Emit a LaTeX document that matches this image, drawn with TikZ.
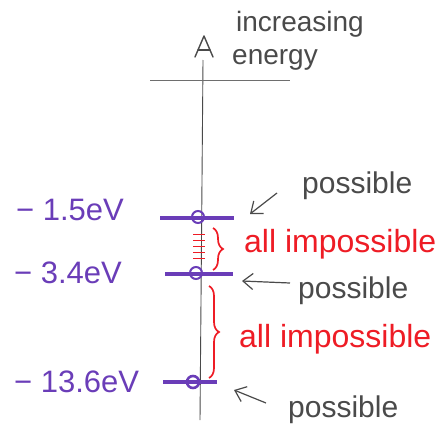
\documentclass[tikz,border=0pt]{standalone}
\usepackage{fontspec}
\setmainfont{Liberation Sans}
\usetikzlibrary{arrows.meta,decorations.pathreplacing}
\definecolor{pencil}{HTML}{4A4A4A}
\definecolor{violet}{HTML}{6A3DB8}
\definecolor{redink}{HTML}{EE1C25}
\tikzset{
  grayText/.style={text=pencil, font=\fontsize{30}{32}\selectfont, inner sep=0pt, anchor=west},
  levelLabel/.style={text=violet, font=\fontsize{31}{33}\selectfont, inner sep=0pt, anchor=west},
  impText/.style={text=redink, font=\fontsize{32}{34}\selectfont, inner sep=0pt, anchor=west},
  levelLine/.style={draw=violet, line width=3.6pt},
  levelDot/.style={draw=violet, line width=2pt, circle, minimum size=12pt, inner sep=0pt},
  pointer/.style={draw=pencil, line width=1.2pt, -{Straight Barb[length=10pt,width=16pt]}},
  redBrace/.style={draw=redink, line width=1.7pt, decorate, decoration={brace, amplitude=10pt}},
  tick/.style={draw=redink, line width=0.9pt},
  axisPen/.style={draw=pencil, line width=0.9pt},
  headPen/.style={draw=pencil, line width=1.4pt, line join=round, line cap=round}
}
\begin{document}
\begin{tikzpicture}[x=1pt,y=-1pt]
\useasboundingbox (0,0) rectangle (438,428);
% axis with hand-drawn open arrowhead
\coordinate (axBot) at (200,420);
\coordinate (axTop) at (203,60);
\draw[axisPen] (axBot) -- (axTop);
\coordinate (hl) at (195,57); \coordinate (ht) at (204,36); \coordinate (hr) at (213,57);
\coordinate (cl) at (198,50); \coordinate (cr) at (210,50);
\draw[headPen] (hl) -- (ht) -- (hr);
\draw[headPen] (cl) -- (cr);
\coordinate (zl) at (150,80);
\coordinate (zr) at (290,80);
\draw[pencil!80, line width=0.7pt] (zl) -- (zr);
\node[grayText, font=\fontsize{28}{30}\selectfont] (inc) at (236,24) {increasing};
\node[grayText, font=\fontsize{28}{30}\selectfont] (eng) at (232,60) {energy};
% levels
\coordinate (a1) at (160,218); \coordinate (b1) at (234,218);
\coordinate (a2) at (165,274); \coordinate (b2) at (233,274);
\coordinate (a3) at (163,382); \coordinate (b3) at (217,382);
\draw[levelLine] (a1) -- (b1);
\draw[levelLine] (a2) -- (b2);
\draw[levelLine] (a3) -- (b3);
\node[levelDot] (d1) at (198,217) {};
\node[levelDot] (d2) at (196,273) {};
\node[levelDot, line width=2.6pt] (d3) at (193,382) {};
\node[levelLabel] (e1) at (16,210) {− 1.5eV};
\node[levelLabel] (e2) at (14,273) {− 3.4eV};
\node[levelLabel] (e3) at (14,382) {− 13.6eV};
% red ticks between levels
\foreach \y [count=\i] in {234,240,246,252,258} {
  \coordinate (tl\i) at (193,\y); \coordinate (tr\i) at (205,\y);
  \draw[tick] (tl\i) -- (tr\i);
}
% braces
\coordinate (br1t) at (213,228); \coordinate (br1b) at (213,270);
\draw[redBrace] (br1t) -- (br1b);
\coordinate (br2t) at (209,286); \coordinate (br2b) at (209,378);
\draw[redBrace] (br2t) -- (br2b);
\node[impText] (i1) at (244,244) {all impossible};
\node[impText] (i2) at (239,339) {all impossible};
% possible labels and arrows
\node[grayText] (p1) at (302,186) {possible};
\node[grayText] (p2) at (298,291) {possible};
\node[grayText] (p3) at (288,410) {possible};
\coordinate (t1) at (250,214); \coordinate (s1) at (277,193);
\coordinate (t2) at (242,281); \coordinate (s2) at (290,283);
\coordinate (t3) at (234,390); \coordinate (s3) at (266,403);
\draw[pointer] (s1) -- (t1);
\draw[pointer] (s2) -- (t2);
\draw[pointer] (s3) -- (t3);
\end{tikzpicture}
\end{document}
